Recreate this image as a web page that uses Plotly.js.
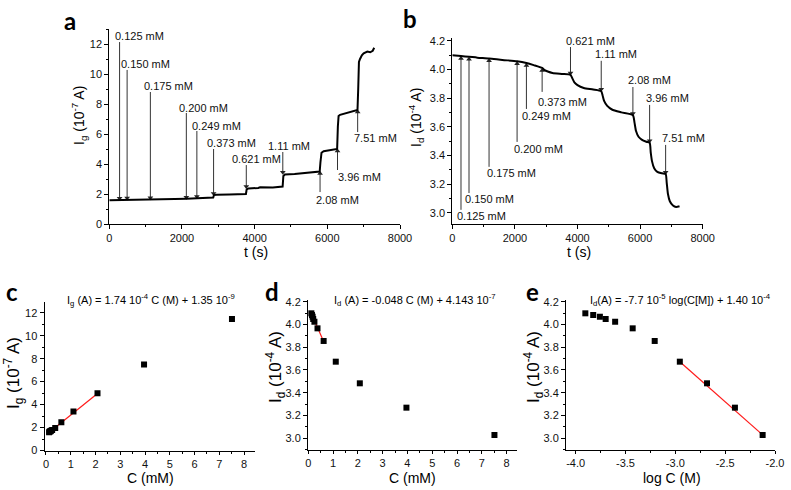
<!DOCTYPE html>
<html>
<head>
<meta charset="utf-8">
<script src="https://cdn.plot.ly/plotly-3.0.1.min.js"></script>
<style>html,body{margin:0;padding:0;background:#fff;}#chart{width:791px;height:490px;}</style>
</head>
<body>
<div id="chart"></div>
<script>
// ---------- DATA ----------
const concLabels = ['0.125 mM','0.150 mM','0.175 mM','0.200 mM','0.249 mM','0.373 mM','0.621 mM','1.11 mM','2.08 mM','3.96 mM','7.51 mM'];
const conc = [0.125, 0.150, 0.175, 0.200, 0.249, 0.373, 0.621, 1.11, 2.08, 3.96, 7.51];
const logC = [-3.903, -3.824, -3.757, -3.699, -3.604, -3.428, -3.207, -2.955, -2.682, -2.402, -2.124];
const igC = [1.60, 1.65, 1.68, 1.72, 1.78, 1.97, 2.45, 3.40, 4.98, 7.48, 11.45];
const idD = [4.098, 4.083, 4.068, 4.048, 4.024, 3.966, 3.855, 3.673, 3.483, 3.269, 3.029];

// injection times (s) seen in panels a and b
const injA = [283, 490, 1130, 2120, 2410, 2870, 3770, 4775, 5800, 6280, 6835];
const injB = [278, 534, 1174, 2070, 2368, 2870, 3776, 4758, 5770, 6304, 6816];

// panel a: gate current trace (1e-7 A)
const tA = [0, 150, 283, 300, 490, 800, 1130, 1500, 1800, 2120, 2410, 2600, 2860, 2880, 2950, 3300, 3760, 3780, 3830, 4100, 4150, 4500, 4770, 4790, 4830, 5100, 5500, 5790, 5810, 5840, 5900, 6100, 6270, 6290, 6310, 6350, 6600, 6830, 6850, 6870, 6900, 6950, 7000, 7100, 7180, 7250, 7290];
const igA = [1.58, 1.59, 1.60, 1.61, 1.62, 1.63, 1.64, 1.65, 1.66, 1.68, 1.72, 1.74, 1.76, 1.93, 1.95, 1.97, 2.00, 2.30, 2.37, 2.40, 2.45, 2.44, 2.50, 3.20, 3.30, 3.33, 3.42, 3.50, 4.10, 4.75, 4.85, 4.95, 5.00, 6.50, 7.20, 7.28, 7.45, 7.60, 9.00, 10.80, 11.00, 11.25, 11.38, 11.50, 11.45, 11.55, 11.75];

// panel b: drain current trace (1e-4 A)
const tB = [0, 278, 534, 800, 1174, 1600, 2070, 2368, 2600, 2870, 2950, 3050, 3200, 3500, 3776, 3830, 3900, 4000, 4200, 4500, 4758, 4800, 4850, 4950, 5100, 5400, 5770, 5820, 5870, 5950, 6050, 6200, 6304, 6340, 6380, 6450, 6550, 6700, 6816, 6850, 6890, 6950, 7050, 7150, 7260];
const idB = [4.098, 4.093, 4.088, 4.082, 4.076, 4.066, 4.057, 4.045, 4.030, 4.010, 3.995, 3.985, 3.975, 3.968, 3.962, 3.940, 3.910, 3.890, 3.870, 3.860, 3.848, 3.820, 3.780, 3.745, 3.720, 3.700, 3.680, 3.630, 3.570, 3.530, 3.510, 3.495, 3.488, 3.420, 3.360, 3.310, 3.285, 3.275, 3.270, 3.210, 3.130, 3.080, 3.050, 3.040, 3.045];

// fitted lines (end points)
const fitC_x = [0.10, 2.08];   const fitC_y = [1.52, 4.97];
const fitD_x = [0.10, 0.621];  const fitD_y = [4.11, 3.85];
const fitE_x = [-2.955, -2.124]; const fitE_y = [3.673, 3.030];

const tickValsE = [-4.0, -3.5, -3.0, -2.5, -2.0];
const tickTextE = ['-4.0', '-3.5', '-3.0', '-2.5', '-2.0'];

// ---------- LAYOUT HELPERS ----------
const FONT = 'Liberation Sans, Arial, sans-serif';
const W = 791, H = 490;
const px = v => v / W;
const py = v => 1 - v / H;

function axis(domain, range, dtick, minor, anchor, fsize, extra) {
  return Object.assign({
    domain: domain, range: range, anchor: anchor, dtick: dtick,
    showline: true, linecolor: '#000', linewidth: 1, mirror: false,
    ticks: 'outside', ticklen: 4, tickwidth: 1, tickcolor: '#000',
    showgrid: false, zeroline: false, fixedrange: true,
    tickfont: {family: FONT, size: fsize, color: '#111'},
    minor: {ticks: 'outside', ticklen: 2, tickwidth: 1, tickcolor: '#000', dtick: minor, showgrid: false}
  }, extra || {});
}

// arrow tails / heads and label anchor positions (layout placement)
const arrA = {tail: [12.13, 10.27, 8.8, 7.4, 6.2, 5.0, 3.93, 4.8, 2.13, 3.6, 6.13],
              head: [1.72, 1.73, 1.75, 1.79, 1.83, 2.03, 2.5, 3.45, 3.36, 4.86, 7.46],
              lx:   [138, 294, 919, 1899, 2248, 2653, 3349, 4332, 5661, 6258, 6699],
              ly:   [12.53, 10.67, 9.2, 7.75, 6.53, 5.42, 4.33, 5.22, 1.6, 3.15, 5.71]};
const arrB = {tail: [3.02, 3.137, 3.32, 3.494, 3.724, 3.843, 4.156, 4.06, 3.877, 3.752, 3.473],
              head: [4.076, 4.071, 4.06, 4.04, 4.028, 3.993, 3.974, 3.862, 3.692, 3.502, 3.282],
              lx:   [118, 374, 1077, 1930, 2195, 2696, 3601, 4527, 5591, 6157, 6658],
              ly:   [2.978, 3.095, 3.276, 3.443, 3.677, 3.775, 4.2, 4.105, 3.926, 3.8, 3.524]};

function arrowTraces(inj, arr, xa, ya) {
  const lx = [], ly = [], hx = [], hy = [], sym = [];
  for (let i = 0; i < inj.length; i++) {
    lx.push(inj[i], inj[i], null);
    ly.push(arr.tail[i], arr.head[i], null);
    hx.push(inj[i]); hy.push(arr.head[i]);
    sym.push(arr.tail[i] > arr.head[i] ? 'triangle-down' : 'triangle-up');
  }
  return [
    {x: lx, y: ly, type: 'scatter', mode: 'lines', line: {color: '#333', width: 1}, xaxis: xa, yaxis: ya, hoverinfo: 'skip'},
    {x: hx, y: hy, type: 'scatter', mode: 'markers', marker: {symbol: sym, size: 5, color: '#222'}, xaxis: xa, yaxis: ya, hoverinfo: 'skip'}
  ];
}

const traces = [].concat(
  arrowTraces(injA, arrA, 'x', 'y'),
  arrowTraces(injB, arrB, 'x2', 'y2'),
  [
  {x: tA, y: igA, type: 'scatter', mode: 'lines', line: {color: '#000', width: 2}, xaxis: 'x', yaxis: 'y', hoverinfo: 'skip'},
  {x: tB, y: idB, type: 'scatter', mode: 'lines', line: {color: '#000', width: 2, shape: 'spline', smoothing: 0.6}, xaxis: 'x2', yaxis: 'y2', hoverinfo: 'skip'},
  {x: fitC_x, y: fitC_y, type: 'scatter', mode: 'lines', line: {color: '#ff1a1a', width: 1.2}, xaxis: 'x3', yaxis: 'y3'},
  {x: conc, y: igC, type: 'scatter', mode: 'markers', marker: {symbol: 'square', size: 6, color: '#000'}, xaxis: 'x3', yaxis: 'y3'},
  {x: fitD_x, y: fitD_y, type: 'scatter', mode: 'lines', line: {color: '#ff1a1a', width: 1.2}, xaxis: 'x4', yaxis: 'y4'},
  {x: conc, y: idD, type: 'scatter', mode: 'markers', marker: {symbol: 'square', size: 6, color: '#000'}, xaxis: 'x4', yaxis: 'y4'},
  {x: fitE_x, y: fitE_y, type: 'scatter', mode: 'lines', line: {color: '#ff1a1a', width: 1.2}, xaxis: 'x5', yaxis: 'y5'},
  {x: logC, y: idD, type: 'scatter', mode: 'markers', marker: {symbol: 'square', size: 6, color: '#000'}, xaxis: 'x5', yaxis: 'y5'}
  ]);

const ann = [];
function addLabels(arr, xr, yr) {
  for (let i = 0; i < concLabels.length; i++) {
    ann.push({x: arr.lx[i], y: arr.ly[i], xref: xr, yref: yr, text: concLabels[i], showarrow: false,
      xanchor: 'left', yanchor: 'middle', font: {family: FONT, size: 11, color: '#111'}, borderpad: 0});
  }
}
addLabels(arrA, 'x', 'y');
addLabels(arrB, 'x2', 'y2');

function ptext(text, x, y, size, extra) {
  ann.push(Object.assign({text: text, x: px(x), y: py(y), xref: 'paper', yref: 'paper', showarrow: false,
    xanchor: 'center', yanchor: 'middle', borderpad: 0, font: {family: FONT, size: size, color: '#000'}}, extra || {}));
}
// panel letters
const LET = {family: 'Lato, Liberation Sans, sans-serif', size: 24, color: '#000', weight: 'bold'};
ptext('<b>a</b>', 70, 20, 24, {font: LET});
ptext('<b>b</b>', 410, 18, 24, {font: LET});
ptext('<b>c</b>', 12, 291, 24, {font: LET});
ptext('<b>d</b>', 272, 291, 24, {font: LET});
ptext('<b>e</b>', 532, 291, 24, {font: LET});
// axis titles
ptext('t (s)', 256, 252, 14);
ptext('I<sub>g</sub> (10<sup>-7</sup> A)', 79, 116, 14, {textangle: -90});
ptext('t (s)', 579, 252, 14);
ptext('I<sub>d</sub> (10<sup>-4</sup> A)', 416, 117, 14, {textangle: -90});
ptext('C (mM)', 150, 478, 14);
ptext('I<sub>g</sub> (10<sup>-7</sup> A)', 13, 373, 17, {textangle: -90});
ptext('C (mM)', 412, 478, 14);
ptext('I<sub>d</sub> (10<sup>-4</sup> A)', 275, 367, 17, {textangle: -90});
ptext('log C (M)', 672, 478, 14);
ptext('I<sub>d</sub> (10<sup>-4</sup> A)', 533, 367, 17, {textangle: -90});
// equations
ptext('I<sub>g</sub> (A) = 1.74 10<sup>-4</sup> C (M) + 1.35 10<sup>-9</sup>', 151, 300, 11);
ptext('I<sub>d</sub> (A) = -0.048 C (M) + 4.143 10<sup>-7</sup>', 415, 300, 11);
ptext('I<sub>d</sub>(A) = -7.7 10<sup>-5</sup> log(C[M]) + 1.40 10<sup>-4</sup>', 680, 300, 11);

const layout = {
  width: W, height: H, margin: {l: 0, r: 0, t: 0, b: 0}, paper_bgcolor: '#fff', plot_bgcolor: 'rgba(0,0,0,0)',
  showlegend: false, font: {family: FONT, color: '#000'},
  xaxis:  axis([px(109.3), px(400)], [0, 8000], 2000, 1000, 'y', 11),
  yaxis:  axis([py(224), py(29)], [0, 13], 2, 1, 'x', 11),
  xaxis2: axis([px(452.3), px(702.7)], [0, 8000], 2000, 1000, 'y2', 11),
  yaxis2: axis([py(224), py(38.3)], [2.921, 4.217], 0.2, 0.1, 'x2', 11, {tickformat: '.1f'}),
  xaxis3: axis([px(44.5), px(255)], [-0.06, 8.44], 1, 0.5, 'y3', 11, {ticklen: 3}),
  yaxis3: axis([py(450.5), py(301.7)], [0, 12.96], 2, 1, 'x3', 11),
  xaxis4: axis([px(308), px(517)], [-0.01, 8.42], 1, 0.5, 'y4', 11, {ticklen: 3}),
  yaxis4: axis([py(450), py(300)], [2.897, 4.215], 0.2, 0.1, 'x4', 11, {tickformat: '.1f'}),
  xaxis5: axis([px(566), px(775)], [-4.097, -2.0], 0.5, 0.25, 'y5', 11, {ticklen: 3, tickmode: 'array', tickvals: tickValsE, ticktext: tickTextE}),
  yaxis5: axis([py(450), py(300)], [2.897, 4.215], 0.2, 0.1, 'x5', 11, {tickformat: '.1f'}),
  annotations: ann
};
layout.xaxis5.minor = {ticks: 'outside', ticklen: 2, tickwidth: 1, tickcolor: '#000', tickvals: [-4.0, -3.75, -3.5, -3.25, -3.0, -2.75, -2.5, -2.25, -2.0], showgrid: false};

Plotly.newPlot('chart', traces, layout, {staticPlot: true, displayModeBar: false});
</script>
</body>
</html>
